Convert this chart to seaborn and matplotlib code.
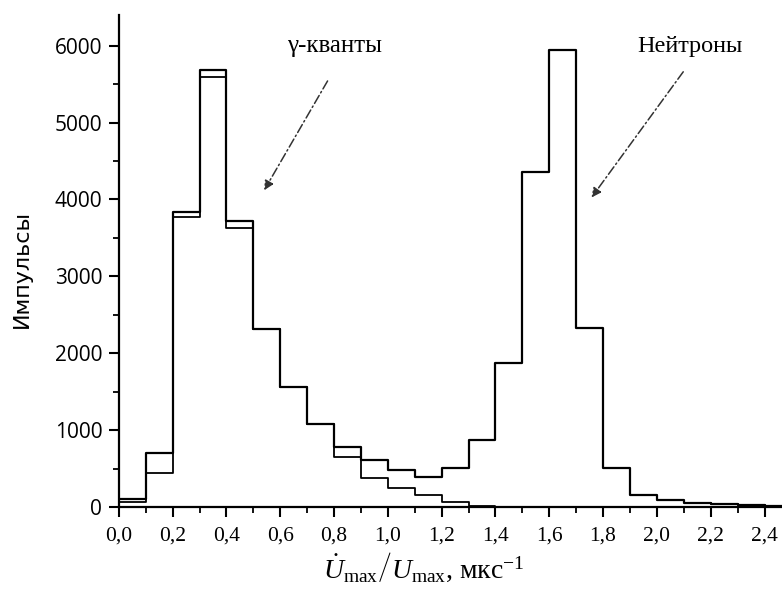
import numpy as np
import matplotlib
matplotlib.use("Agg")
import matplotlib.pyplot as plt
from matplotlib.ticker import MultipleLocator, FixedLocator, FixedFormatter
import seaborn as sns

# ---- data ----
bin_edges = [round(0.1 * i, 1) for i in range(26)]  # 0.0 ... 2.5
total_counts = [100, 700, 3835, 5690, 3715, 2315, 1555, 1085, 785, 612,
                478, 390, 503, 868, 1870, 4358, 5941, 2327, 512, 156,
                91, 48, 39, 26, 13]
gamma_counts = [65, 445, 3770, 5590, 3625, 2315, 1555, 1085, 647, 378,
                245, 156, 69, 13, 5, 0, 0, 0, 0, 0,
                0, 0, 0, 0, 0]
x_tick_values = [0.0, 0.2, 0.4, 0.6, 0.8, 1.0, 1.2, 1.4, 1.6, 1.8, 2.0, 2.2, 2.4]
x_tick_labels = ["0,0", "0,2", "0,4", "0,6", "0,8", "1,0", "1,2", "1,4",
                 "1,6", "1,8", "2,0", "2,2", "2,4"]
y_tick_values = [0, 1000, 2000, 3000, 4000, 5000, 6000]
y_tick_labels = ["0", "1000", "2000", "3000", "4000", "5000", "6000"]
label_gamma = "γ-кванты"
label_neutron = "Нейтроны"
y_label = "Импульсы"
x_label = (r"$\left.\dot{U}_{\mathrm{max}}\right/U_{\mathrm{max}}$"
           r", $\mathrm{мкс}^{-1}$")

# ---- style ----
sns.set_theme(style="ticks")
plt.rcParams["font.family"] = ["Liberation Serif", "DejaVu Serif"]
plt.rcParams["mathtext.fontset"] = "custom"
plt.rcParams["mathtext.rm"] = "Liberation Serif"
plt.rcParams["mathtext.it"] = "Liberation Serif:italic"
plt.rcParams["mathtext.bf"] = "Liberation Serif:bold"

fig = plt.figure(figsize=(7.82, 5.92), dpi=100)
ax = fig.add_axes([0.152, 0.1436, 0.848, 0.8311])

centers = [(bin_edges[i] + bin_edges[i + 1]) / 2 for i in range(len(bin_edges) - 1)]

sns.histplot(x=centers, weights=total_counts, bins=bin_edges, element="step",
             fill=False, color="black", linewidth=1.6, ax=ax)
sns.histplot(x=centers, weights=gamma_counts, bins=bin_edges, element="step",
             fill=False, color="black", linewidth=1.3, ax=ax)

ax.set_xlim(0, 2.465)
ax.set_ylim(0, 6400)

ax.xaxis.set_major_locator(FixedLocator(x_tick_values))
ax.xaxis.set_major_formatter(FixedFormatter(x_tick_labels))
ax.xaxis.set_minor_locator(MultipleLocator(0.1))
ax.yaxis.set_major_locator(FixedLocator(y_tick_values))
ax.yaxis.set_major_formatter(FixedFormatter(y_tick_labels))
ax.yaxis.set_minor_locator(MultipleLocator(500))

ax.tick_params(axis="both", which="major", direction="out", length=7, width=1.5,
               colors="black")
ax.tick_params(axis="both", which="minor", direction="out", length=4, width=1.3,
               colors="black")
ax.tick_params(axis="x", which="major", labelsize=15.5, pad=7)
ax.tick_params(axis="y", which="major", labelsize=15, pad=5)
for lab in ax.get_yticklabels():
    lab.set_family(["Open Sans", "DejaVu Sans"])

for side in ("top", "right"):
    ax.spines[side].set_visible(False)
for side in ("left", "bottom"):
    ax.spines[side].set_linewidth(1.6)
    ax.spines[side].set_color("black")

ax.set_ylabel(y_label, fontsize=16, color="black",
              family=["DejaVu Sans"], va="center")
ax.yaxis.set_label_coords(-0.146, 0.484)
ax.set_xlabel(x_label, fontsize=20, color="black", va="center")
ax.xaxis.set_label_coords(0.46, -0.122)

# annotations with arrows
ax.text(0.80, 5990, label_gamma, fontsize=18, ha="center", va="center", color="black")
ax.annotate("", xy=(0.535, 4089), xytext=(0.781, 5573),
            arrowprops=dict(arrowstyle="-|>", color="#333333", lw=1.1,
                            linestyle=(0, (6, 2, 1, 2)), mutation_scale=14))
ax.text(2.123, 5990, label_neutron, fontsize=17.5, ha="center", va="center", color="black")
ax.annotate("", xy=(1.751, 3997), xytext=(2.104, 5690),
            arrowprops=dict(arrowstyle="-|>", color="#333333", lw=1.1,
                            linestyle=(0, (6, 2, 1, 2)), mutation_scale=14))

fig.savefig("out.png", dpi=100)
